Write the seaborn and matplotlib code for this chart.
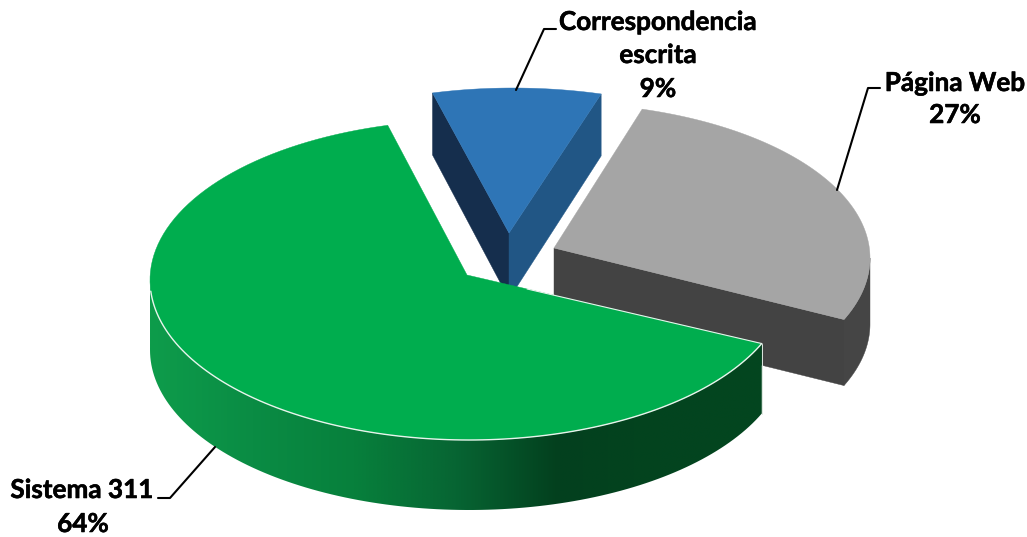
import numpy as np
import seaborn as sns
import matplotlib.pyplot as plt
import matplotlib.patheffects as pe
from matplotlib.patches import Polygon

# values from the chart, clockwise from the blue/grey gap
labels = ['Página Web', 'Sistema 311', 'Correspondencia\nescrita']
percent = [27.0, 64.4, 8.6]
pct_labels = ['27%', '64%', '9%']

top_colors = ['#A5A5A5', '#00AD4E', '#2E75B6']
start_angle = 73.8

# fake 3d geometry in pixels, each slice has its own ellipse because of the perspective
grey = dict(center=(554, 258), rx=316, ry=155, apex=(554, 248), depth=66)
green = dict(center=(469, 280), rx=319, ry=160, apex=(467, 275), depth=70)
blue = dict(center=(513, 238), rx=316, ry=150, apex=(509, 233), depth=62)


def arc(s, a0, a1, n=120):
    t = np.radians(np.linspace(a0, a1, n))
    return np.column_stack([s['center'][0] + s['rx'] * np.cos(t),
                            s['center'][1] - s['ry'] * np.sin(t)])


def wall(s, a0, a1):
    # outer side of a slice, from angle a0 to a1
    pts = arc(s, a0, a1)
    return np.vstack([pts, (pts + [0, s['depth']])[::-1]])


def poly(ax, pts, color, z):
    ax.add_patch(Polygon(pts, closed=True, facecolor=color, edgecolor=color, lw=0.3, zorder=z))


sns.set_theme(style='white')
plt.rcParams['font.family'] = ['Lato', 'DejaVu Sans']

fig = plt.figure(figsize=(10.27, 5.37), dpi=100)
ax = fig.add_axes([0, 0, 1, 1])

# slice angles from the values, going clockwise
edges = start_angle - np.cumsum([0] + [p * 3.6 for p in percent])
grey_a = (edges[0], edges[1])
green_a = (edges[1], edges[2])
blue_a = (edges[2] + 360, edges[3] + 360)

# blue slice
b_left = arc(blue, blue_a[0], blue_a[0], 1)[0]
b_right = arc(blue, blue_a[1], blue_a[1], 1)[0]
b_apex = np.array(blue['apex'], dtype=float)
down = np.array([0, blue['depth']])
apex_down = np.array([0, 66])
poly(ax, [b_left, b_left + down, b_apex + apex_down, b_apex], '#152E4D', 1)
poly(ax, [b_right, b_right + down, b_apex + apex_down, b_apex], '#215685', 1)
poly(ax, np.vstack([[b_apex], arc(blue, blue_a[0], blue_a[1])]), top_colors[2], 2)

# grey slice
g_apex = np.array(grey['apex'], dtype=float)
g_corner = arc(grey, grey_a[1], grey_a[1], 1)[0]
g_down = np.array([0, grey['depth']])
poly(ax, [g_apex, g_corner, g_corner + g_down, g_apex + g_down], '#434343', 3)
poly(ax, wall(grey, 0, grey_a[1]), '#454545', 3)
poly(ax, np.vstack([[g_apex], arc(grey, grey_a[0], grey_a[1])]), top_colors[0], 4)

# green slice, outer wall has a gradient
wall_pts = wall(green, grey_a[1], -180)
grad = sns.blend_palette(['#0E9C4B', '#0A8C44', '#07803C', '#076533', '#03401E', '#03441F', '#03461F'],
                         as_cmap=True)
im = ax.imshow(np.linspace(0, 1, 256)[None, :], cmap=grad, vmin=0, vmax=1, aspect='auto', zorder=5,
               extent=(150, 762, 520, 280), interpolation='bilinear')
clip = Polygon(wall_pts, closed=True, transform=ax.transData, facecolor='none', edgecolor='none')
ax.add_patch(clip)
im.set_clip_path(clip)

g2_apex = np.array(green['apex'], dtype=float)
top = np.vstack([[g2_apex], arc(green, green_a[0], green_a[1])])
poly(ax, top, top_colors[1], 6)

# thin white edge
rim = arc(green, grey_a[1], -176)
ax.plot(rim[:, 0], rim[:, 1], color='#E8F4EC', lw=1.0, zorder=7)
g_end = arc(green, grey_a[1], grey_a[1], 1)[0]
ax.plot([g2_apex[0] + 60, g_end[0]],
        [g2_apex[1] + 60 * (g_end[1] - g2_apex[1]) / (g_end[0] - g2_apex[0]), g_end[1]],
        color='#E8F4EC', lw=0.8, zorder=7)
ax.plot([g_end[0], g_end[0]], [g_end[1], g_end[1] + green['depth']], color='#DDE8E0', lw=0.7, zorder=7)

# leader lines
ax.plot([516, 544, 556], [90, 29, 29], color='black', lw=1.5, zorder=8)
ax.plot([837, 868, 880], [190, 88, 88], color='black', lw=1.5, zorder=8)
ax.plot([215, 170, 158], [447, 498, 498], color='black', lw=1.5, zorder=8)

# labels
font = dict(fontsize=18.8, fontweight='bold', color='black', ha='center', va='center',
            path_effects=[pe.withStroke(linewidth=0.4, foreground='black')])
ax.text(658, 22, labels[2].split('\n')[0], **font)
ax.text(658, 55, labels[2].split('\n')[1], **font)
ax.text(658, 89, pct_labels[2], **font)
ax.text(955, 83, labels[0], **font)
ax.text(955, 115, pct_labels[0], **font)
ax.text(82, 490, labels[1], **font)
ax.text(83, 524, pct_labels[1], **font)

ax.set_xlim(0, 1027)
ax.set_ylim(537, 0)
ax.axis('off')

plt.savefig('out.png', dpi=100)
plt.close()
